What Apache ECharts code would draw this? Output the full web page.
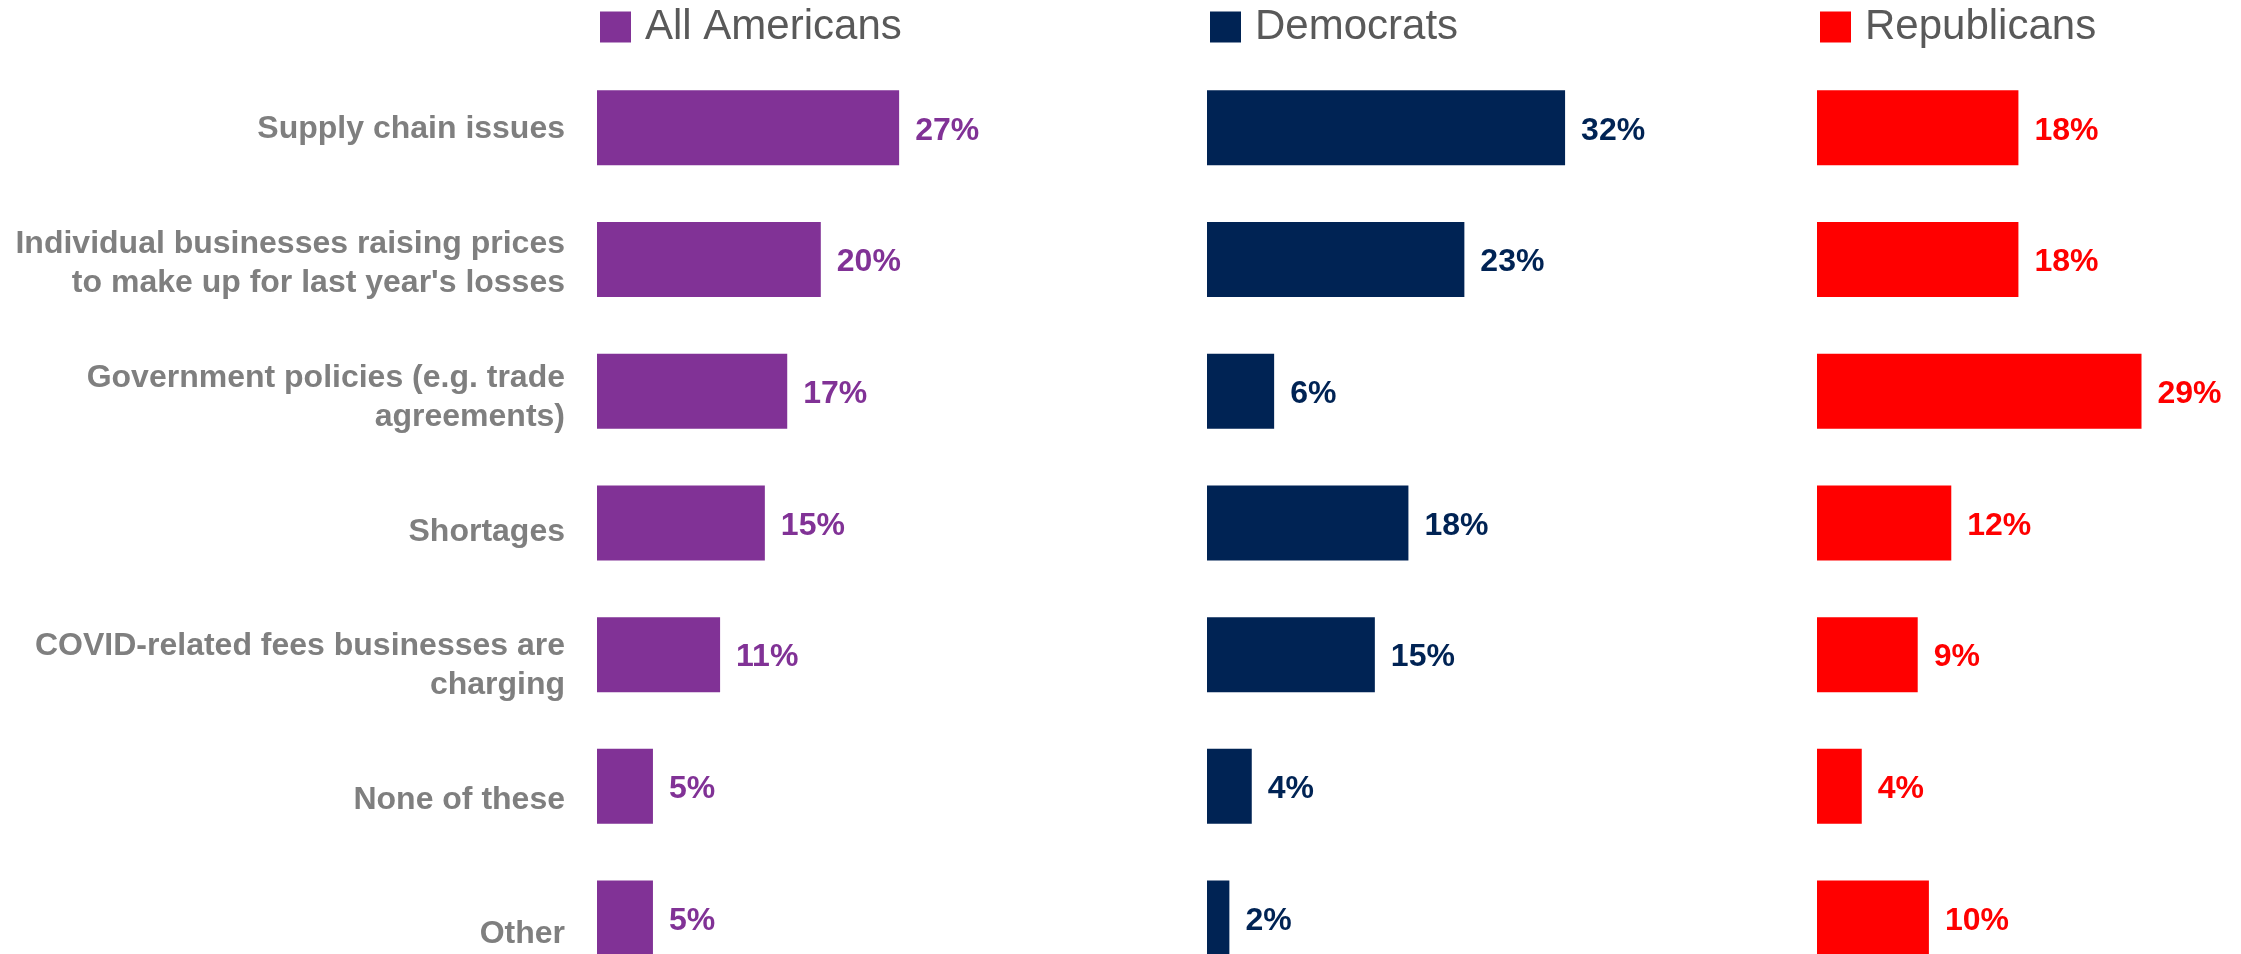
<!DOCTYPE html>
<html>
<head>
<meta charset="utf-8">
<title>Perceived causes of rising prices</title>
<script src="https://cdn.jsdelivr.net/npm/echarts@6/dist/echarts.min.js"></script>
<style>
  html, body { margin: 0; padding: 0; background: #ffffff; }
  #chart { width: 2241px; height: 954px; }
</style>
</head>
<body>
<div id="chart"></div>
<script>
// Answer options, top to bottom
const categories = [
  'Supply chain issues',
  "Individual businesses raising prices\nto make up for last year's losses",
  'Government policies (e.g. trade\nagreements)',
  'Shortages',
  'COVID-related fees businesses are\ncharging',
  'None of these',
  'Other'
];

// Share of respondents choosing each option (%)
const allAmericans = [27, 20, 17, 15, 11, 5, 5];
const democrats    = [32, 23, 6, 18, 15, 4, 2];
const republicans  = [18, 18, 29, 12, 9, 4, 10];

const groupNames  = ['All Americans', 'Democrats', 'Republicans'];
const groupColors = ['#813296', '#002354', '#ff0000'];
const groupData   = [allAmericans, democrats, republicans];

const FONT = '"Liberation Sans", Arial, sans-serif';
const PX_PER_PCT = 11.19;
const X_MAX = 40;
const panelLefts = [597, 1207, 1817];

const grids = [];
const xAxes = [];
const yAxes = [];
const series = [];
const legends = [];

// Bar panels, one per group (the last row runs off the bottom edge)
groupData.forEach((vals, i) => {
  grids.push({
    left: panelLefts[i], top: 62, width: X_MAX * PX_PER_PCT, height: 921.9,
    containLabel: false, outerBoundsMode: 'none'
  });
  xAxes.push({ gridIndex: i, type: 'value', min: 0, max: X_MAX, show: false });
  yAxes.push({
    gridIndex: i, type: 'category', data: categories, inverse: true,
    axisLine: { show: false }, axisTick: { show: false }, axisLabel: { show: false }, splitLine: { show: false }
  });
  series.push({
    name: groupNames[i], type: 'bar', xAxisIndex: i, yAxisIndex: i,
    data: vals, barWidth: 75, itemStyle: { color: groupColors[i] },
    label: {
      show: true, position: 'right', distance: 16, offset: [0, 3], formatter: '{c}%',
      color: groupColors[i], fontFamily: FONT, fontWeight: 'bold', fontSize: 32
    },
    animation: false
  });
  legends.push({
    data: [groupNames[i]], left: panelLefts[i] + 3, top: 6, padding: 0,
    icon: 'rect', itemWidth: 31, itemHeight: 31, selectedMode: false,
    textStyle: { fontFamily: FONT, fontSize: 42, color: '#595959', padding: [0, 0, 0, 9], lineHeight: 42 }
  });
});

// Category label column
const labelGrid = grids.length;
grids.push({
  left: 597, top: 62, width: 100, height: 939.4,
  containLabel: false, outerBoundsMode: 'none'
});
xAxes.push({ gridIndex: labelGrid, type: 'value', min: 0, max: 1, show: false });
yAxes.push({
  gridIndex: labelGrid, type: 'category', data: categories, inverse: true,
  axisLine: { show: false }, axisTick: { show: false }, splitLine: { show: false },
  axisLabel: {
    margin: 32, color: '#7f7f7f', fontFamily: FONT, fontWeight: 'bold',
    fontSize: 32, lineHeight: 39, align: 'right'
  }
});

const chart = echarts.init(document.getElementById('chart'), null, { renderer: 'canvas' });
chart.setOption({
  backgroundColor: '#ffffff',
  animation: false,
  legend: legends,
  grid: grids,
  xAxis: xAxes,
  yAxis: yAxes,
  series: series
});
</script>
</body>
</html>
